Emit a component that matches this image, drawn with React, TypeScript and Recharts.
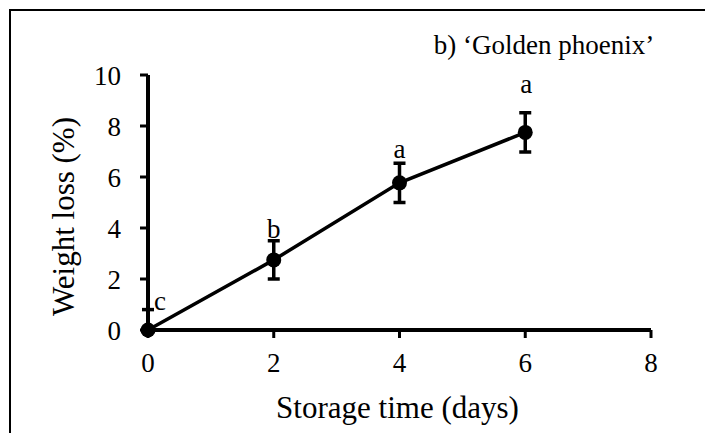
import React from 'react';
import { LineChart, Line, XAxis, YAxis, ErrorBar, LabelList, Label } from 'recharts';

const days = [0, 2, 4, 6];
const weightLoss = [0, 2.75, 5.77, 7.75];
const errLow = [0, 0.75, 0.77, 0.77];
const errHigh = [0.8, 0.75, 0.77, 0.77];
const letters = ['c', 'b', 'a', 'a'];
const xTicks = [0, 2, 4, 6, 8];
const yTicks = [0, 2, 4, 6, 8, 10];

const data = days.map((d, i) => ({
  day: d,
  loss: weightLoss[i],
  err: [errLow[i], errHigh[i]],
  letter: letters[i],
}));

const FONT = "'Liberation Serif', 'Times New Roman', serif";

// pixel nudges for the significance letters
const letterDx = [12, 0, 0, 1];
const letterDy = [-20, -22, -25, -39];

const LetterLabel = (props: any) => {
  const { x, y, value, index } = props;
  return (
    <text x={x + letterDx[index]} y={y + letterDy[index]} textAnchor="middle" fontFamily={FONT} fontSize={27} fill="#000">
      {value}
    </text>
  );
};

const YTitle = (props: any) => {
  const { viewBox } = props;
  const cx = viewBox.x + 55;
  const cy = viewBox.y + viewBox.height / 2 + 14;
  return (
    <text x={cx} y={cy} transform={`rotate(-90 ${cx} ${cy})`} textAnchor="middle" dominantBaseline="central" fontFamily={FONT} fontSize={31} fill="#000">
      Weight loss (%)
    </text>
  );
};

const XTitle = (props: any) => {
  const { viewBox } = props;
  return (
    <text x={viewBox.x + viewBox.width / 2 - 2} y={399} textAnchor="middle" dominantBaseline="central" fontFamily={FONT} fontSize={31} fill="#000">
      Storage time (days)
    </text>
  );
};

const tickStyle = { fontSize: 27, fill: '#000', fontFamily: FONT };

const App: React.FC = () => {
  return (
    <div style={{ position: 'relative', width: 705, height: 425 }}>
      <div
        style={{
          position: 'absolute',
          left: 1,
          top: 1,
          width: 696,
          height: 430,
          borderLeft: '2px solid #000',
          borderTop: '2px solid #000',
          borderRight: '2px solid #000',
        }}
      />
      <span
        style={{
          position: 'absolute',
          left: 536,
          top: 37,
          transform: 'translate(-50%, -50%)',
          fontFamily: FONT,
          fontSize: 27,
          lineHeight: 1,
          whiteSpace: 'nowrap',
          color: '#000',
        }}
      >
        b) ‘Golden phoenix’
      </span>
      <LineChart
        width={705}
        height={425}
        data={data}
        margin={{ top: 67, right: 62, bottom: 43, left: 0 }}
        style={{ position: 'absolute', left: 0, top: 0 }}
      >
        <XAxis
          dataKey="day"
          type="number"
          domain={[0, 8]}
          ticks={xTicks}
          height={60}
          tick={tickStyle}
          tickSize={8}
          tickMargin={15}
          axisLine={{ stroke: '#000', strokeWidth: 4 }}
          tickLine={{ stroke: '#000', strokeWidth: 3 }}
        >
          <Label content={<XTitle />} />
        </XAxis>
        <YAxis
          type="number"
          domain={[0, 10]}
          ticks={yTicks}
          width={140}
          tick={tickStyle}
          tickSize={8}
          tickMargin={19}
          axisLine={{ stroke: '#000', strokeWidth: 4 }}
          tickLine={{ stroke: '#000', strokeWidth: 3 }}
        >
          <Label content={<YTitle />} />
        </YAxis>
        <Line
          dataKey="loss"
          stroke="#000"
          strokeWidth={3.5}
          dot={{ r: 7.5, fill: '#000', stroke: '#000', strokeWidth: 0 }}
          activeDot={false}
          isAnimationActive={false}
        >
          <ErrorBar dataKey="err" direction="y" width={6} stroke="#000" strokeWidth={3.5} />
          <LabelList dataKey="letter" content={<LetterLabel />} />
        </Line>
      </LineChart>
    </div>
  );
};

export default App;
